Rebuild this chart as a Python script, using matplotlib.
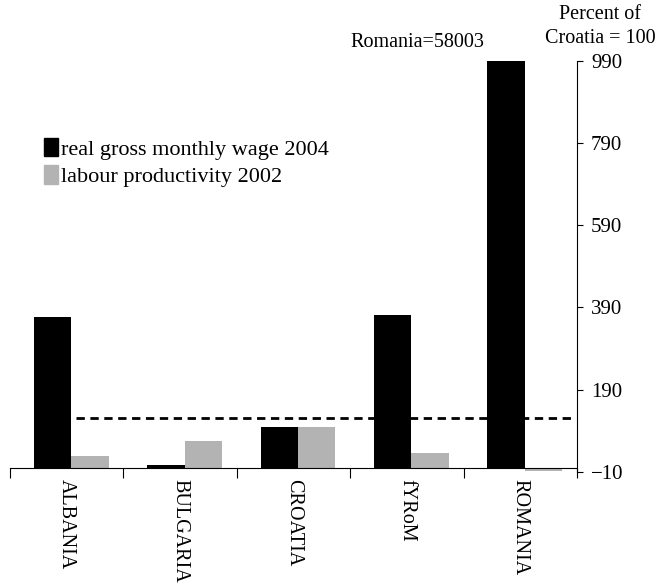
import matplotlib
matplotlib.use("Agg")
import matplotlib.pyplot as plt
from matplotlib.patches import Patch
import numpy as np

# data
countries = ["ALBANIA", "BULGARIA", "CROATIA", "fYRoM", "ROMANIA"]
wage_2004 = [367, 6, 100, 371, 58003]
productivity_2002 = [28, 64, 100, 35, -8]
croatia_level = 120
y_ticks = [-10, 190, 390, 590, 790, 990]

plt.rcParams["font.family"] = ["Liberation Serif", "DejaVu Serif"]

fig = plt.figure(figsize=(6.58, 5.87), dpi=100)
ax = fig.add_axes([0.0152, 0.1964, 0.8617, 0.6997])

x = np.arange(len(countries))
w = 0.33
off = 0.04
ax.bar(x + off - w / 2, wage_2004, width=w, color="black", linewidth=0)
ax.bar(x + off + w / 2, productivity_2002, width=w, color="#b3b3b3", linewidth=0)

# dashed reference line
ax.hlines(croatia_level, 0.08, 4.47, colors="black", linestyles=(0, (3, 2)), linewidth=2)

ax.set_xlim(-0.5, len(countries) - 0.5)
ax.set_ylim(-10, 990)

# axes lines
ax.spines["top"].set_visible(False)
ax.spines["left"].set_visible(False)
ax.spines["bottom"].set_position(("data", 0))
ax.yaxis.tick_right()
ax.set_yticks(y_ticks)
ax.tick_params(axis="y", direction="out", length=4, labelsize=15, pad=6)

# category boundaries as ticks, labels at centres
ax.set_xticks(np.arange(len(countries) + 1) - 0.5)
ax.set_xticklabels([])
ax.set_xticks(x, minor=True)
ax.set_xticklabels(countries, minor=True, rotation=270, fontsize=14.5, va="top")
ax.tick_params(axis="x", which="major", direction="out", length=7)
ax.tick_params(axis="x", which="minor", length=0, pad=8)

handles = [Patch(color="black"), Patch(color="#b3b3b3")]
ax.legend(handles, ["real gross monthly wage 2004", "labour productivity 2002"],
          loc="upper left", bbox_to_anchor=(0.045, 0.835), frameon=False,
          fontsize=16, handlelength=0.6, handleheight=0.9, handletextpad=0.15,
          labelspacing=0.25, borderaxespad=0)

fig.text(0.634, 0.928, "Romania=58003", ha="center", va="center", fontsize=14.5)
fig.text(0.912, 0.955, "Percent of\nCroatia = 100", ha="center", va="center",
         fontsize=14.5, linespacing=1.3)

fig.savefig("out.png", dpi=100)
